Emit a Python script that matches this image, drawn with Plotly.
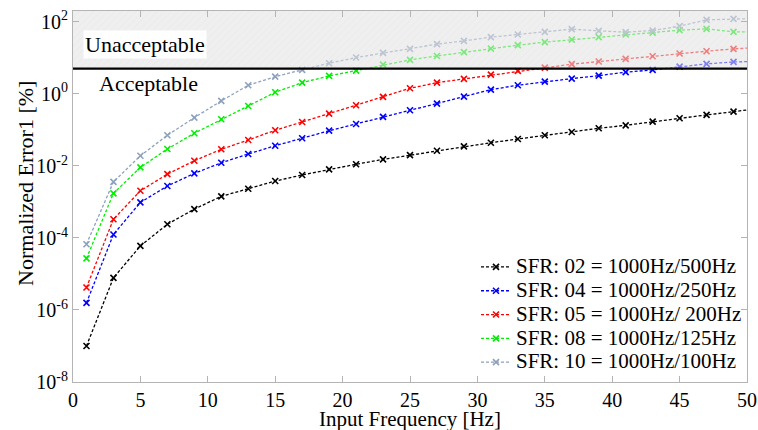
import plotly.graph_objects as go

freq = [1, 3, 5, 7, 9, 11, 13, 15, 17, 19, 21, 23, 25, 27, 29, 31, 33, 35, 37, 39, 41, 43, 45, 47, 49, 51]

sfr02 = [1.0e-7, 7.8e-6, 6.0e-5, 2.4e-4, 6.3e-4, 1.43e-3, 2.32e-3, 3.8e-3, 5.6e-3, 8.0e-3, 0.0111, 0.0152, 0.020,
         0.0264, 0.035, 0.044, 0.0559, 0.0708, 0.0875, 0.111, 0.134, 0.169, 0.21, 0.26, 0.321, 0.40]
sfr04 = [1.58e-6, 1.25e-4, 9.7e-4, 2.76e-3, 6.2e-3, 0.0122, 0.0214, 0.0364, 0.0585, 0.095, 0.146, 0.229, 0.351,
         0.536, 0.838, 1.31, 1.74, 2.19, 2.65, 3.21, 4.0, 4.63, 5.7, 6.8, 7.7, 8.0]
sfr05 = [4.2e-6, 3.3e-4, 2.04e-3, 5.9e-3, 0.0139, 0.0289, 0.0524, 0.0975, 0.166, 0.282, 0.483, 0.822, 1.43,
         2.05, 2.6, 3.43, 4.34, 5.37, 6.67, 7.9, 9.4, 11.1, 13.2, 15.3, 17.8, 19.5]
sfr08 = [2.7e-5, 1.73e-3, 9.1e-3, 0.0295, 0.0805, 0.197, 0.462, 1.11, 2.05, 3.15, 4.43, 6.5, 8.8,
         11.3, 14.4, 18.1, 22.5, 27.3, 32.2, 37.6, 44.4, 50.4, 58.8, 63.9, 52.7, 52.0]
sfr10 = [6.7e-5, 3.6e-3, 0.0192, 0.0708, 0.219, 0.637, 1.74, 3.0, 4.63, 7.1, 10.2, 13.7, 17.7,
         24.0, 29.6, 37.6, 44.4, 52.7, 62.7, 56.2, 51.7, 57.3, 75.9, 113.6, 121.0, 125.0]

series_names = ["SFR: 02 = 1000Hz/500Hz", "SFR: 04 = 1000Hz/250Hz", "SFR: 05 = 1000Hz/ 200Hz",
                "SFR: 08 = 1000Hz/125Hz", "SFR: 10 = 1000Hz/100Hz"]
series_vals = [sfr02, sfr04, sfr05, sfr08, sfr10]
colors = ["#000000", "#0000ff", "#ff0000", "#00ee00", "#8da0bc"]

y_tick_vals = [1e-8, 1e-6, 1e-4, 1e-2, 1e0, 1e2]
y_tick_text = ["10<sup>-8</sup>", "10<sup>-6</sup>", "10<sup>-4</sup>", "10<sup>-2</sup>",
               "10<sup>0</sup>", "10<sup>2</sup>"]
x_tick_vals = [0, 5, 10, 15, 20, 25, 30, 35, 40, 45, 50]

THRESHOLD = 5
X_MIN, X_MAX = 0, 50
Y_MIN, Y_MAX = 1e-8, 200

FONT = "Liberation Serif, Times New Roman, serif"

fig = go.Figure()
for name, vals, c in zip(series_names, series_vals, colors):
    fig.add_trace(go.Scatter(
        x=freq, y=vals, name='<span style="font-size:21px">' + name + '</span>',
        mode="lines+markers",
        line=dict(color=c, width=1.3, dash="3px,2px"),
        marker=dict(symbol="x-thin", size=6, line=dict(color=c, width=1.6)),
    ))

# unacceptable region overlay (hatched, semi-transparent)
fig.add_trace(go.Scatter(
    x=[X_MIN, X_MAX, X_MAX, X_MIN, X_MIN], y=[THRESHOLD, THRESHOLD, Y_MAX, Y_MAX, THRESHOLD],
    mode="none", fill="toself", fillcolor="rgba(226,226,226,0.55)",
    fillpattern=dict(shape="/", fgcolor="rgba(205,205,205,0.6)", bgcolor="rgba(226,226,226,0.55)",
                     size=5, solidity=0.12),
    showlegend=False, hoverinfo="skip",
))
# threshold line
fig.add_trace(go.Scatter(
    x=[X_MIN, X_MAX], y=[THRESHOLD, THRESHOLD], mode="lines",
    line=dict(color="black", width=2.2), showlegend=False, hoverinfo="skip",
))

fig.add_annotation(x=0.75, y=1.36, xref="x", yref="y", text="Unacceptable", showarrow=False,
                   xanchor="left", yanchor="middle", bgcolor="white",
                   font=dict(family=FONT, size=22, color="black"), borderpad=1)
fig.add_annotation(x=1.8, y=0.28, xref="x", yref="y", text="Acceptable", showarrow=False,
                   xanchor="left", yanchor="middle",
                   font=dict(family=FONT, size=22, color="black"))

# axis titles
fig.add_annotation(x=0.5, y=0, xref="paper", yref="paper", yshift=-23, text="Input Frequency [Hz]",
                   showarrow=False, xanchor="center", yanchor="top",
                   font=dict(family=FONT, size=21, color="black"))
fig.add_annotation(x=0, y=0.534, xref="paper", yref="paper", xshift=-47, text="Normalized Error1 [%]",
                   showarrow=False, xanchor="center", yanchor="middle", textangle=-90,
                   font=dict(family=FONT, size=22, color="black"))

axis_common = dict(showline=True, linecolor="#b4b4b4", linewidth=1, mirror="ticks",
                   ticks="inside", tickcolor="#b4b4b4", ticklen=6, showgrid=False, zeroline=False,
                   automargin=False,
                   tickfont=dict(family=FONT, size=20, color="black"))

fig.update_xaxes(range=[X_MIN, X_MAX], tickvals=x_tick_vals, **axis_common)
fig.update_yaxes(type="log", range=[-8, 2.301], tickvals=y_tick_vals, ticktext=y_tick_text, **axis_common)

fig.update_layout(
    width=758, height=430,
    margin=dict(l=73, r=11, t=11, b=48, autoexpand=False),
    plot_bgcolor="white", paper_bgcolor="white",
    font=dict(family=FONT, size=20, color="black"),
    legend=dict(x=1.0, y=0.008, xanchor="right", yanchor="bottom",
                bgcolor="rgba(255,255,255,0)", font=dict(family=FONT, size=16, color="black"),
                itemwidth=30, tracegroupgap=0),
)

fig.write_html("out.html", config={"displayModeBar": False},
               post_script="document.body.style.margin='0';")
